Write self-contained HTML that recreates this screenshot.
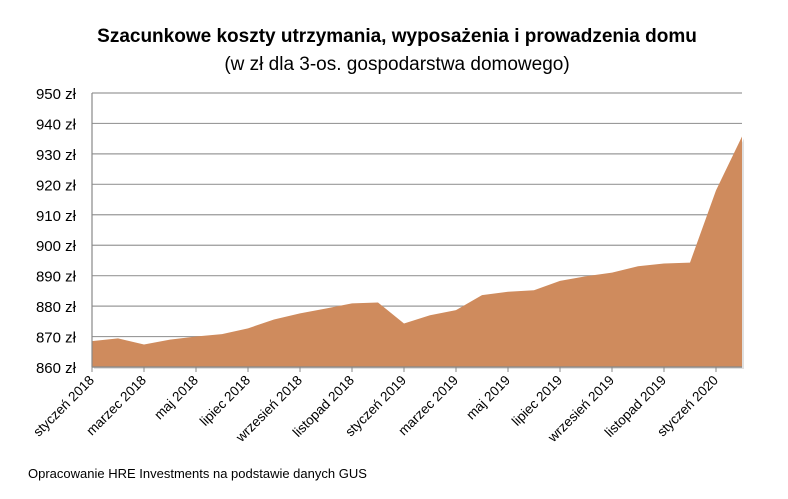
<!DOCTYPE html>
<html><head><meta charset="utf-8"><style>
body{margin:0;background:#fff;width:788px;height:494px;overflow:hidden;font-family:"Liberation Sans",sans-serif}
</style></head><body>
<svg width="788" height="494">
<text x="397" y="42" text-anchor="middle" font-size="19" font-weight="bold" fill="#000">Szacunkowe koszty utrzymania, wyposażenia i prowadzenia domu</text>
<text x="397" y="70" text-anchor="middle" font-size="19" fill="#000">(w zł dla 3-os. gospodarstwa domowego)</text>
<g id="grid"></g><g id="area"></g><g id="axes"></g>
<text x="28" y="478" font-size="13" fill="#000">Opracowanie HRE Investments na podstawie danych GUS</text>
</svg>
<script>
const months=["styczeń 2018","luty 2018","marzec 2018","kwiecień 2018","maj 2018","czerwiec 2018","lipiec 2018","sierpień 2018","wrzesień 2018","październik 2018","listopad 2018","grudzień 2018","styczeń 2019","luty 2019","marzec 2019","kwiecień 2019","maj 2019","czerwiec 2019","lipiec 2019","sierpień 2019","wrzesień 2019","październik 2019","listopad 2019","grudzień 2019","styczeń 2020","luty 2020"];
const costs=[868.5,869.4,867.4,869,870,870.8,872.7,875.6,877.6,879.2,880.9,881.2,874.3,877,878.7,883.6,884.7,885.2,888.3,889.8,891,893.1,894,894.3,918,935.7];
const yTicks=[860,870,880,890,900,910,920,930,940,950];
const X0=92,X1=742,Y0=367,Y1=93,VMIN=860,VMAX=950;
const x=i=>X0+i*(X1-X0)/(months.length-1);
const y=v=>Y0-(v-VMIN)*(Y0-Y1)/(VMAX-VMIN);
const NS="http://www.w3.org/2000/svg";
function mk(t,a,p){const e=document.createElementNS(NS,t);for(const k in a)e.setAttribute(k,a[k]);p.appendChild(e);return e;}
const grid=document.getElementById('grid'),area=document.getElementById('area'),axes=document.getElementById('axes');
yTicks.forEach(v=>{
 const l=mk('line',{x1:X0,x2:X1,y1:y(v),y2:y(v),stroke:'#9a9a9a','stroke-width':1.2},grid);
 
 
 const t=mk('text',{x:76,y:y(v)+6,'text-anchor':'end','font-size':15,fill:'#000'},axes);
 t.textContent=v+' zł';
 
 
});
let d='M'+x(0)+','+Y0;
costs.forEach((v,i)=>{d+=' L'+x(i)+','+y(v);});
d+=' L'+x(costs.length-1)+','+Y0+' Z';
const sh=mk('path',{d:d,fill:'#000',opacity:0.12,transform:'translate(2,2)'},area);


const p=mk('path',{d:d,fill:'#cf8b5d'},area);


const ya=mk('line',{x1:X0,x2:X0,y1:Y1,y2:Y0,stroke:'#888','stroke-width':1.2},axes);


const xa=mk('line',{x1:X0,x2:X1,y1:Y0,y2:Y0,stroke:'#888','stroke-width':1.2},axes);


months.forEach((m,i)=>{
 if(i%2)return;
 const tk=mk('line',{x1:x(i),x2:x(i),y1:Y0,y2:Y0+5,stroke:'#888'},axes);
 
 
 const t=mk('text',{x:x(i)+3,y:Y0+14,'text-anchor':'end','font-size':13.5,fill:'#000',transform:'rotate(-45 '+(x(i)+3)+' '+(Y0+14)+')'},axes);
 t.textContent=m;
 
 
});
</script>
</body></html>
